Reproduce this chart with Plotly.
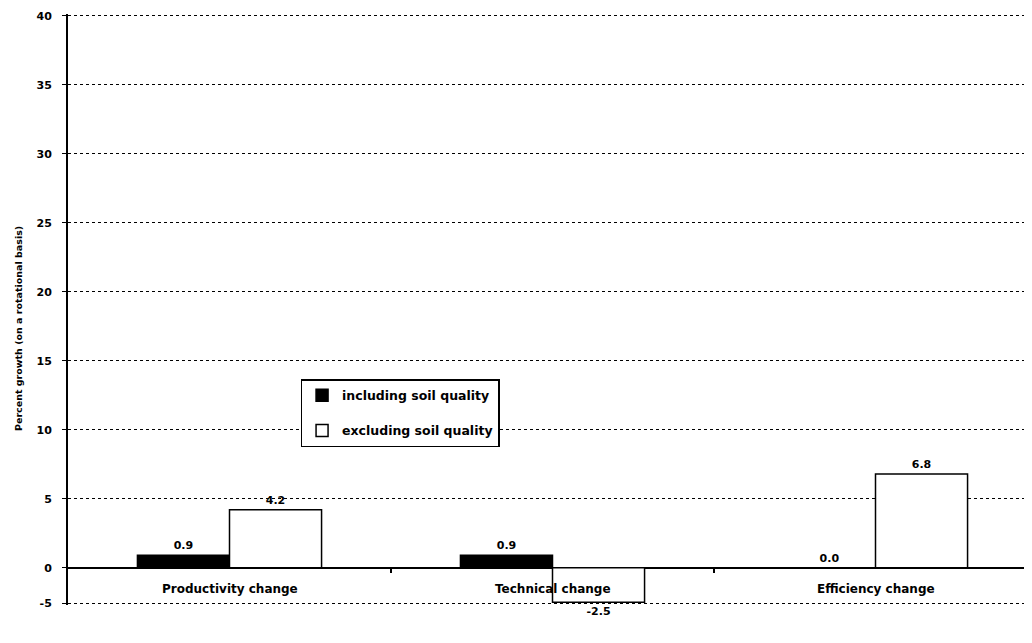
import plotly.graph_objects as go

categories = ["Productivity change", "Technical change", "Efficiency change"]
including = [0.9, 0.9, 0.0]
excluding = [4.2, -2.5, 6.8]
series_names = ["including soil quality", "excluding soil quality"]
# The reference's bottom gridline (labelled -5) sits just below the -2.5 bar,
# so the axis bottom is placed there and carries the "-5" label.
y_bottom = -2.6
y_ticks = [y_bottom, 0, 5, 10, 15, 20, 25, 30, 35, 40]
y_tick_labels = ["-5", "0", "5", "10", "15", "20", "25", "30", "35", "40"]
y_title = "Percent growth (on a rotational basis)"

FONT = "DejaVu Sans, Arial, sans-serif"
y_range = [y_bottom - 0.1, 40.12]
x_range = [-0.5, len(categories) - 0.5]
# category boundary positions (between groups) for the small ticks on the zero line
boundaries = [i + 0.5 for i in range(len(categories))]

fig = go.Figure()
fig.add_trace(go.Bar(
    x=categories, y=including, name="<b>%s</b>" % series_names[0], legendgroup="a",
    marker=dict(color="black", line=dict(color="black", width=1.5)),
    texttemplate="<b>%{y:.1f}</b>", textposition="outside",
    textfont=dict(family=FONT, size=11, color="black"), cliponaxis=False,
))
fig.add_trace(go.Bar(
    x=categories, y=excluding, name="<b>%s</b>" % series_names[1], legendgroup="b",
    marker=dict(color="white", line=dict(color="black", width=1.5)),
    texttemplate="<b>%{y:.1f}</b>", textposition="outside",
    textfont=dict(family=FONT, size=11, color="black"), cliponaxis=False,
))
# empty helper trace so the overlay axis (boundary ticks on the zero line) is drawn
fig.add_trace(go.Scatter(x=[None], y=[None], xaxis="x2", yaxis="y",
                         mode="markers", showlegend=False, hoverinfo="skip"))

for c in categories:
    fig.add_annotation(x=c, y=0, xref="x", yref="y", text="<b>%s</b>" % c,
                       showarrow=False, yanchor="top", yshift=-12,
                       font=dict(family=FONT, size=12, color="black"))

fig.add_annotation(x=0, y=0.467, xref="paper", yref="paper", xshift=-50,
                   text="<b>%s</b>" % y_title, textangle=-90, showarrow=False,
                   xanchor="center", yanchor="middle",
                   font=dict(family=FONT, size=9.5, color="black"))

zero_pos = (0 - y_range[0]) / (y_range[1] - y_range[0])

fig.update_layout(
    width=1032, height=643,
    margin=dict(l=60, r=3, t=6, b=46, autoexpand=False),
    paper_bgcolor="white", plot_bgcolor="white",
    barmode="group", bargap=0.43, bargroupgap=0,
    font=dict(family=FONT, color="black"),
    showlegend=True,
    legend=dict(x=0.24, y=0.382, xanchor="left", yanchor="top",
                bgcolor="white", bordercolor="black", borderwidth=1.5,
                font=dict(family=FONT, size=12.5, color="black"),
                traceorder="grouped", tracegroupgap=16),
    xaxis=dict(range=x_range, showticklabels=False, showgrid=False,
               showline=False, zeroline=False, ticks=""),
    xaxis2=dict(range=x_range, overlaying="x", anchor="free", position=zero_pos,
                side="bottom", tickvals=boundaries, showticklabels=False,
                ticks="outside", ticklen=4, tickcolor="black", tickwidth=1.5,
                showgrid=False, showline=False, zeroline=False),
    yaxis=dict(range=y_range, tickvals=y_ticks,
               ticktext=["<b>%s</b>" % t for t in y_tick_labels],
               tickfont=dict(family=FONT, size=11, color="black"),
               ticklabelstandoff=8,
               showgrid=True, gridcolor="black", griddash="dot", gridwidth=1,
               zeroline=True, zerolinecolor="black", zerolinewidth=1.5,
               showline=True, linecolor="black", linewidth=2,
               ticks="outside", ticklen=4, tickcolor="black",
               automargin=False),
)

fig.write_html("out.html")
